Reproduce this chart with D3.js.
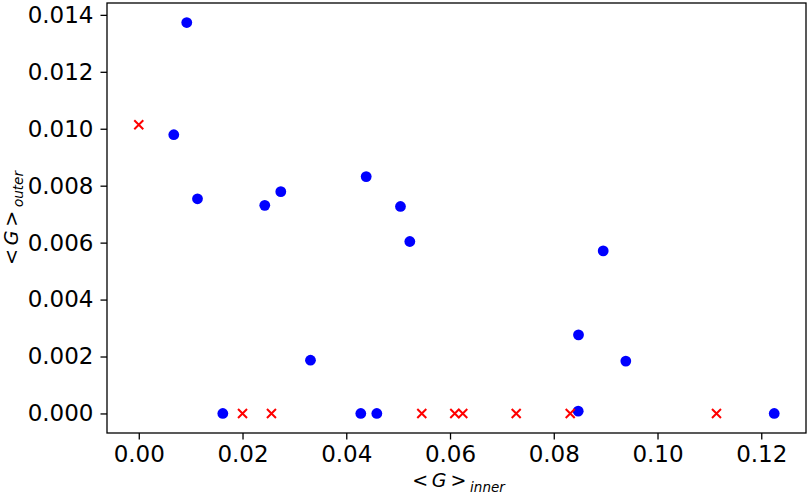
<!DOCTYPE html>
<html>
<head>
<meta charset="utf-8">
<script src="https://cdn.jsdelivr.net/npm/d3@7"></script>
<style>
  html, body { margin: 0; padding: 0; background: #fff; }
  svg { display: block; font-family: "DejaVu Sans", sans-serif; }
</style>
</head>
<body>
<svg id="chart" width="809" height="494"></svg>
<script>
// Blue circles: <G>_inner (x) and <G>_outer (y)
const blueX = [0.00925, 0.00675, 0.01132, 0.02429, 0.02738, 0.04384, 0.05045, 0.05225, 0.0331,
               0.0428, 0.04589, 0.0162, 0.08953, 0.08477, 0.09389, 0.08471, 0.1225];
const blueY = [0.01373, 0.00979, 0.00754, 0.00731, 0.00779, 0.00832, 0.00727, 0.00604, 0.00187,
               0.0, 0.0, 0.0, 0.00571, 0.00276, 0.00184, 0.00008, 0.0];
// Red crosses
const redX = [0.0, 0.0200, 0.02558, 0.05456, 0.06092, 0.06246, 0.07276, 0.08317, 0.11137];
const redY = [0.01014, 0.0, 0.0, 0.0, 0.0, 0.0, 0.0, 0.0, 0.0];

const xTicks = [0.00, 0.02, 0.04, 0.06, 0.08, 0.10, 0.12];
const yTicks = [0.000, 0.002, 0.004, 0.006, 0.008, 0.010, 0.012, 0.014];

const W = 809, H = 494;
const margin = {left: 107, right: 3, top: 3, bottom: 61};

const allX = blueX.concat(redX), allY = blueY.concat(redY);
const xmin = d3.min(allX), xmax = d3.max(allX);
const ymin = d3.min(allY), ymax = d3.max(allY);
const xm = (xmax - xmin) * 0.05, ym = (ymax - ymin) * 0.05;

const x = d3.scaleLinear().domain([xmin - xm, xmax + xm]).range([margin.left, W - margin.right]);
const y = d3.scaleLinear().domain([ymin - ym, ymax + ym]).range([H - margin.bottom, margin.top]);

const svg = d3.select("#chart");

// axes
const xAxis = d3.axisBottom(x).tickValues(xTicks).tickFormat(d3.format(".2f")).tickSize(6.5).tickPadding(6).tickSizeOuter(0);
const yAxis = d3.axisLeft(y).tickValues(yTicks).tickFormat(d3.format(".3f")).tickSize(6.5).tickPadding(7).tickSizeOuter(0);

const gx = svg.append("g").attr("transform", `translate(0,${H - margin.bottom})`).call(xAxis);
const gy = svg.append("g").attr("transform", `translate(${margin.left},0)`).call(yAxis);
[gx, gy].forEach(g => {
  g.select(".domain").remove();
  g.selectAll(".tick line").attr("stroke", "#000").attr("stroke-width", 1.3);
  g.selectAll(".tick text").attr("fill", "#000").style("font-size", "23px").style("font-family", "DejaVu Sans");
});

// spines
svg.append("rect")
  .attr("x", margin.left).attr("y", margin.top)
  .attr("width", W - margin.left - margin.right)
  .attr("height", H - margin.top - margin.bottom)
  .attr("fill", "none").attr("stroke", "#000").attr("stroke-width", 1.3);

// blue circles
svg.append("g").selectAll("circle").data(blueX.map((v, i) => [v, blueY[i]])).join("circle")
  .attr("cx", d => x(d[0])).attr("cy", d => y(d[1])).attr("r", 5.4).attr("fill", "#0000ff");

// red crosses
const s = 4.5;
svg.append("g").selectAll("path").data(redX.map((v, i) => [v, redY[i]])).join("path")
  .attr("d", d => {
    const cx = x(d[0]), cy = y(d[1]);
    return `M${cx - s},${cy - s}L${cx + s},${cy + s}M${cx - s},${cy + s}L${cx + s},${cy - s}`;
  })
  .attr("stroke", "#ff0000").attr("stroke-width", 2).attr("fill", "none");

// x label
const xl = svg.append("text")
  .attr("x", (margin.left + W - margin.right) / 2 + 2)
  .attr("y", 487)
  .attr("text-anchor", "middle")
  .style("font-size", "19px").attr("fill", "#000");
xl.append("tspan").text("<\u2009");
xl.append("tspan").style("font-style", "italic").text("G");
xl.append("tspan").text("\u2009>\u2009");
xl.append("tspan").style("font-style", "italic").style("font-size", "13.5px").attr("dy", 5).text("inner");

// y label
const cy0 = (margin.top + H - margin.bottom) / 2;
const yl = svg.append("text")
  .attr("transform", `translate(18,${cy0}) rotate(-90)`)
  .attr("text-anchor", "middle")
  .style("font-size", "19px").attr("fill", "#000");
yl.append("tspan").text("<\u2009");
yl.append("tspan").style("font-style", "italic").text("G");
yl.append("tspan").text("\u2009>\u2009");
yl.append("tspan").style("font-style", "italic").style("font-size", "13.5px").attr("dy", 5).text("outer");
</script>
</body>
</html>
